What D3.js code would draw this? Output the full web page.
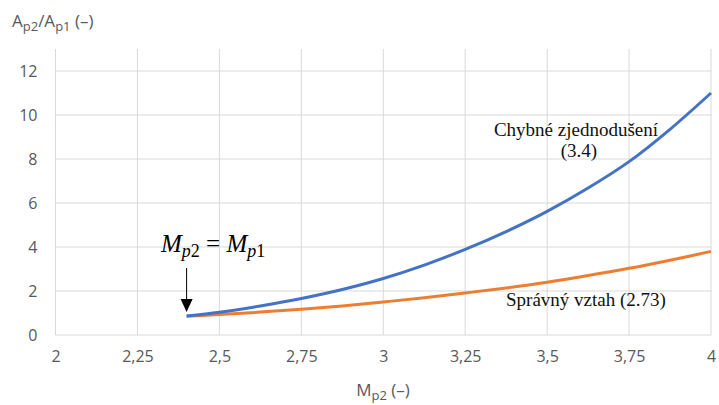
<!DOCTYPE html>
<html>
<head>
<meta charset="utf-8">
<script src="https://cdn.jsdelivr.net/npm/d3@7"></script>
<style>
  body { margin: 0; background: #fff; }
  svg { display: block; }
</style>
</head>
<body>
<div id="graph"><svg></svg></div>
<script>
// values
let mach = [2.4, 2.5, 2.625, 2.75, 2.875, 3, 3.125, 3.25, 3.375, 3.5, 3.625, 3.75, 3.875, 4];
let wrongRatio = [0.86, 1.03, 1.32, 1.66, 2.07, 2.57, 3.18, 3.89, 4.70, 5.62, 6.68, 7.88, 9.35, 11.0];
let rightRatio = [0.85, 0.93, 1.04, 1.17, 1.32, 1.50, 1.69, 1.91, 2.14, 2.40, 2.70, 3.03, 3.40, 3.80];
let xTicks = [2, 2.25, 2.5, 2.75, 3, 3.25, 3.5, 3.75, 4];
let yTicks = [0, 2, 4, 6, 8, 10, 12];

let width = 719;
let height = 405;
let margins = { top: 49, right: 8, bottom: 70, left: 55.5 };

let svg = d3
  .select("#graph svg")
  .attr("width", width)
  .attr("height", height);

let xScale = d3.scaleLinear().domain([2, 4]).range([margins.left, width - margins.right]);
let yScale = d3.scaleLinear().domain([0, 13]).range([height - margins.bottom, margins.top]);

let tickFont = "'Open Sans', sans-serif";
let grey = "#595959";

// grid
svg
  .append("g")
  .selectAll("line")
  .data(xTicks)
  .join("line")
  .attr("x1", (d) => xScale(d))
  .attr("x2", (d) => xScale(d))
  .attr("y1", yScale(13))
  .attr("y2", yScale(0))
  .attr("stroke", "#d9d9d9")
  .attr("stroke-width", 1);

svg
  .append("g")
  .selectAll("line")
  .data(yTicks)
  .join("line")
  .attr("x1", xScale(2))
  .attr("x2", xScale(4))
  .attr("y1", (d) => yScale(d))
  .attr("y2", (d) => yScale(d))
  .attr("stroke", "#d9d9d9")
  .attr("stroke-width", 1);

// axes (labels only)
let xAxis = svg
  .append("g")
  .attr("transform", "translate(0," + yScale(0) + ")")
  .call(
    d3.axisBottom(xScale)
      .tickValues(xTicks)
      .tickSize(0)
      .tickPadding(16)
      .tickFormat((d) => String(d).replace(".", ","))
  );
xAxis.select(".domain").remove();
xAxis.selectAll("text").style("font-family", tickFont).style("font-size", "16px").attr("fill", grey);

let yAxis = svg
  .append("g")
  .attr("transform", "translate(" + xScale(2) + ",0)")
  .call(d3.axisLeft(yScale).tickValues(yTicks).tickSize(0).tickPadding(18));
yAxis.select(".domain").remove();
yAxis.selectAll("text").style("font-family", tickFont).style("font-size", "16px").attr("fill", grey);

// curves
let line = d3
  .line()
  .x((d) => xScale(d[0]))
  .y((d) => yScale(d[1]))
  .curve(d3.curveCatmullRom);

svg
  .append("path")
  .datum(d3.zip(mach, rightRatio))
  .attr("d", line)
  .attr("fill", "none")
  .attr("stroke", "#ED7D31")
  .attr("stroke-width", 3);

svg
  .append("path")
  .datum(d3.zip(mach, wrongRatio))
  .attr("d", line)
  .attr("fill", "none")
  .attr("stroke", "#4472C4")
  .attr("stroke-width", 3);

// axis titles
let yTitle = svg
  .append("text")
  .attr("x", 12)
  .attr("y", 27)
  .style("font-family", tickFont)
  .style("font-size", "17px")
  .attr("fill", grey);
yTitle.append("tspan").text("A");
yTitle.append("tspan").attr("dy", 4).style("font-size", "13px").text("p2");
yTitle.append("tspan").attr("dy", -4).text("/A");
yTitle.append("tspan").attr("dy", 4).style("font-size", "13px").text("p1");
yTitle.append("tspan").attr("dy", -4).text(" (–)");

let xTitle = svg
  .append("text")
  .attr("x", 383)
  .attr("y", 396)
  .attr("text-anchor", "middle")
  .style("font-family", tickFont)
  .style("font-size", "17px")
  .attr("fill", grey);
xTitle.append("tspan").text("M");
xTitle.append("tspan").attr("dy", 4).style("font-size", "13px").text("p2");
xTitle.append("tspan").attr("dy", -4).text(" (–)");

// annotations
let serif = "'Liberation Serif', 'Times New Roman', serif";

svg
  .append("text")
  .attr("x", 576)
  .attr("y", 136)
  .attr("text-anchor", "middle")
  .style("font-family", serif)
  .style("font-size", "19px")
  .attr("fill", "#111")
  .text("Chybné zjednodušení");

svg
  .append("text")
  .attr("x", 579)
  .attr("y", 157)
  .attr("text-anchor", "middle")
  .style("font-family", serif)
  .style("font-size", "19px")
  .attr("fill", "#111")
  .text("(3.4)");

svg
  .append("text")
  .attr("x", 506)
  .attr("y", 306)
  .style("font-family", serif)
  .style("font-size", "19px")
  .attr("fill", "#111")
  .text("Správný vztah (2.73)");

let eq = svg
  .append("text")
  .attr("x", 161)
  .attr("y", 252)
  .style("font-family", serif)
  .style("font-size", "25px")
  .attr("fill", "#000");
eq.append("tspan").style("font-style", "italic").text("M");
eq.append("tspan").attr("dy", 5).style("font-style", "italic").style("font-size", "18px").text("p");
eq.append("tspan").style("font-size", "18px").text("2");
eq.append("tspan").attr("dy", -5).text(" = ");
eq.append("tspan").style("font-style", "italic").text("M");
eq.append("tspan").attr("dy", 5).style("font-style", "italic").style("font-size", "18px").text("p");
eq.append("tspan").style("font-size", "18px").text("1");

// arrow
let ax = xScale(2.4);
svg
  .append("line")
  .attr("x1", ax)
  .attr("x2", ax)
  .attr("y1", 268)
  .attr("y2", 300)
  .attr("stroke", "#000")
  .attr("stroke-width", 1);
svg
  .append("path")
  .attr("d", "M" + (ax - 6) + ",299L" + (ax + 6) + ",299L" + ax + ",312Z")
  .attr("fill", "#000");
</script>
</body>
</html>
